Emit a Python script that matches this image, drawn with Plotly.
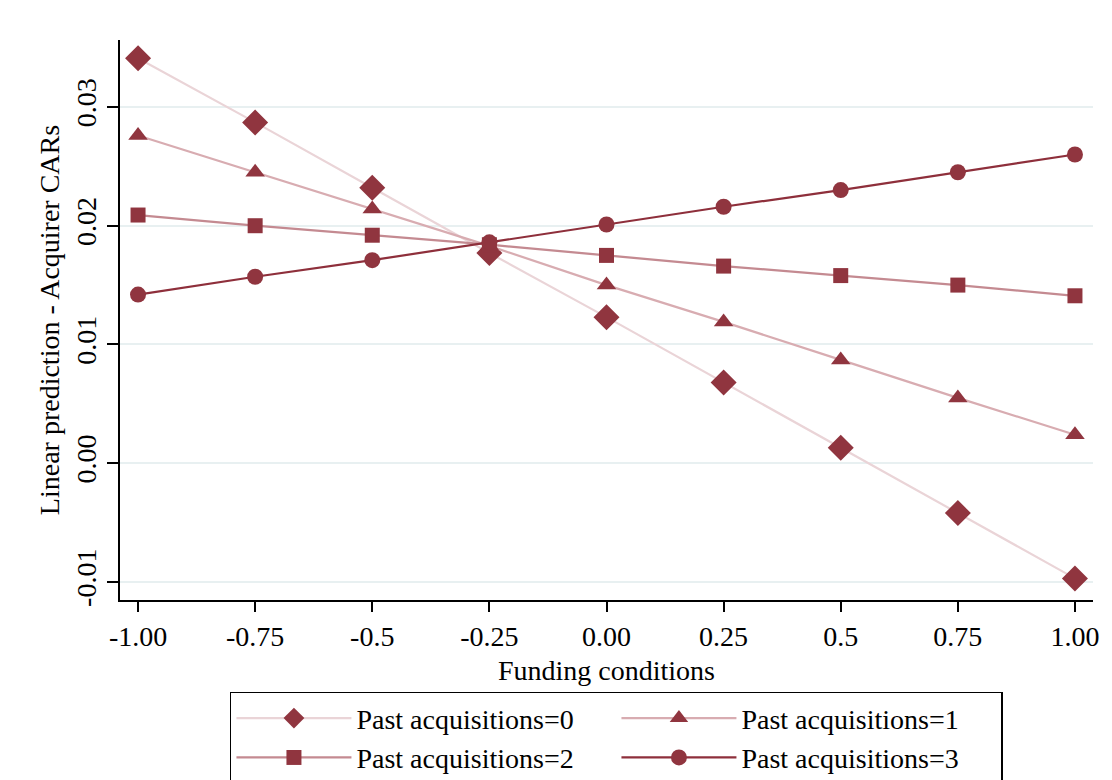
import plotly.graph_objects as go

funding = [-1.0, -0.75, -0.5, -0.25, 0.0, 0.25, 0.5, 0.75, 1.0]
x_tick_labels = ["-1.00", "-0.75", "-0.5", "-0.25", "0.00", "0.25", "0.5", "0.75", "1.00"]
y_tick_vals = [-0.01, 0.0, 0.01, 0.02, 0.03]
y_tick_labels = ["-0.01", "0.00", "0.01", "0.02", "0.03"]

past0 = [0.0341, 0.0287, 0.0232, 0.0177, 0.0123, 0.0068, 0.0013, -0.0042, -0.0097]
past1 = [0.0276, 0.0245, 0.0214, 0.0183, 0.0150, 0.0119, 0.0087, 0.0055, 0.0024]
past2 = [0.0209, 0.0200, 0.0192, 0.0184, 0.0175, 0.0166, 0.0158, 0.0150, 0.0141]
past3 = [0.0142, 0.0157, 0.0171, 0.0186, 0.0201, 0.0216, 0.0230, 0.0245, 0.0260]

series = [
    ("Past acquisitions=0", past0, "diamond", 20, "#ead4d7"),
    ("Past acquisitions=1", past1, "triangle-up", 17, "#d8acb1"),
    ("Past acquisitions=2", past2, "square", 15, "#c48a91"),
    ("Past acquisitions=3", past3, "circle", 16, "#8e2f3b"),
]
marker_color = "#90353f"
font_family = "Liberation Serif, Times New Roman, serif"

fig = go.Figure()
for name, vals, sym, size, lcol in series:
    fig.add_trace(go.Scatter(
        x=funding, y=vals, name=name, mode="lines+markers",
        line=dict(color=lcol, width=2.2),
        marker=dict(symbol=sym, size=size, color=marker_color, line=dict(width=0)),
    ))

fig.update_layout(
    width=1112, height=780,
    margin=dict(l=120, r=19, t=40, b=180, autoexpand=False),
    paper_bgcolor="white", plot_bgcolor="white",
    font=dict(family=font_family, size=28, color="black"),
    showlegend=True,
    legend=dict(
        orientation="h", x=0.113, xanchor="left", y=-0.164, yanchor="top",
        bgcolor="white", bordercolor="black", borderwidth=1.5,
        itemwidth=115, entrywidth=255, entrywidthmode="pixels",
        font=dict(family=font_family, size=28, color="black"),
        traceorder="normal",
    ),
)
fig.update_xaxes(
    range=[-1.0385, 1.0385], tickvals=funding, ticktext=x_tick_labels,
    showgrid=False, zeroline=False, showline=True, linecolor="black", linewidth=2,
    ticks="outside", ticklen=10, tickwidth=2, tickcolor="black",
    tickfont=dict(size=28),
    title=dict(text="Funding conditions", standoff=10, font=dict(size=28)),
)
fig.update_yaxes(
    range=[-0.01152, 0.03564], tickvals=y_tick_vals, ticktext=y_tick_labels,
    tickangle=-90,
    showgrid=True, gridcolor="#e8f0f1", gridwidth=2, zeroline=False,
    showline=True, linecolor="black", linewidth=2,
    ticks="outside", ticklen=11, tickwidth=2, tickcolor="black",
    tickfont=dict(size=28),
    title=dict(text="Linear prediction - Acquirer CARs", standoff=3, font=dict(size=28)),
)

fig.write_html("out.html")
